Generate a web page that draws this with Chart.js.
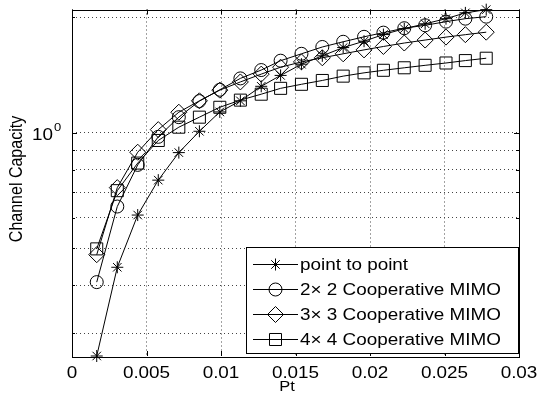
<!DOCTYPE html>
<html>
<head>
<meta charset="utf-8">
<script src="https://cdn.jsdelivr.net/npm/chart.js@4"></script>
<style>
  html, body { margin: 0; padding: 0; background: #fff; }
  canvas { display: block; }
</style>
</head>
<body>
<canvas id="cap-chart" width="538" height="403"></canvas>
<script>
// Transmit power values (x axis)
const ptValues = [0.00166, 0.00304, 0.00441, 0.00579, 0.00717, 0.00855, 0.00992, 0.0113, 0.0127, 0.0140,
  0.0154, 0.0168, 0.0182, 0.0196, 0.0209, 0.0223, 0.0237, 0.0251, 0.0264, 0.0278];

// Channel capacity per scheme
const pointToPoint = [0.262, 0.446, 0.610, 0.752, 0.887, 1.008, 1.132, 1.210, 1.320, 1.409,
  1.507, 1.585, 1.665, 1.730, 1.800, 1.865, 1.920, 1.980, 2.050, 2.090];
const mimo2x2 = [0.408, 0.642, 0.824, 0.975, 1.097, 1.208, 1.293, 1.384, 1.455, 1.539,
  1.604, 1.671, 1.724, 1.776, 1.821, 1.870, 1.903, 1.945, 1.980, 2.004];
const mimo3x3 = [0.481, 0.719, 0.889, 1.018, 1.130, 1.210, 1.290, 1.355, 1.420, 1.480,
  1.528, 1.566, 1.604, 1.642, 1.676, 1.711, 1.742, 1.773, 1.799, 1.826];
const mimo4x4 = [0.498, 0.706, 0.833, 0.954, 1.033, 1.097, 1.164, 1.215, 1.259, 1.304,
  1.336, 1.367, 1.403, 1.431, 1.453, 1.475, 1.497, 1.518, 1.540, 1.562];

const seriesLabels = ['point to point', '2\u00d7 2 Cooperative MIMO', '3\u00d7 3 Cooperative MIMO', '4\u00d7 4 Cooperative MIMO'];
const seriesMarkers = ['star', 'circle', 'rectRot', 'rect'];
const markerRadius = { star: 6, circle: 6.5, rectRot: 8, rect: 8.5 };

// Axis ticks
const xTickValues = [0, 0.005, 0.01, 0.015, 0.02, 0.025, 0.03];
const yGridValues = [0.3, 0.4, 0.5, 0.6, 0.7, 0.8, 0.9, 1, 2];

const FONT = "'Liberation Sans', Arial, Helvetica, sans-serif";
const SX = 1.18; // the reference text is stretched sideways

function stretchedText(ctx, str, x, y, align, size) {
  ctx.save();
  ctx.font = size + 'px ' + FONT;
  ctx.textAlign = align;
  ctx.textBaseline = 'alphabetic';
  ctx.translate(x, y);
  ctx.scale(SX, 1);
  ctx.fillText(str, 0, 0);
  ctx.restore();
}

function drawMarker(ctx, style, x, y) {
  ctx.save();
  ctx.strokeStyle = '#000';
  ctx.fillStyle = 'rgba(0,0,0,0)';
  ctx.lineWidth = 1;
  Chart.helpers.drawPoint(ctx, { pointStyle: style, radius: markerRadius[style], rotation: 0, borderWidth: 1 }, x, y);
  ctx.restore();
}

const decorations = {
  id: 'decorations',
  afterDraw(chart) {
    const ctx = chart.ctx;
    const { left, right, top, bottom } = chart.chartArea;
    const xs = chart.scales.x;
    const ys = chart.scales.y;

    ctx.save();
    ctx.strokeStyle = '#000';
    ctx.fillStyle = '#000';
    ctx.lineWidth = 1;

    // inward tick marks
    ctx.beginPath();
    xTickValues.forEach(v => {
      const px = Math.round(xs.getPixelForValue(v)) + 0.5;
      ctx.moveTo(px, bottom); ctx.lineTo(px, bottom - 5);
      ctx.moveTo(px, top); ctx.lineTo(px, top + 5);
    });
    yGridValues.forEach(v => {
      const py = Math.round(ys.getPixelForValue(v)) + 0.5;
      const len = v === 1 ? 5 : 3;
      ctx.moveTo(left, py); ctx.lineTo(left + len, py);
      ctx.moveTo(right, py); ctx.lineTo(right - len, py);
    });
    ctx.stroke();

    // frame
    ctx.strokeRect(Math.round(left) + 0.5, Math.round(top) + 0.5, Math.round(right - left), Math.round(bottom - top));

    // x tick labels
    xTickValues.forEach(v => {
      stretchedText(ctx, String(+v.toFixed(3)), xs.getPixelForValue(v), bottom + 22, 'center', 16);
    });

    // y tick label 10^0
    const y1 = ys.getPixelForValue(1);
    stretchedText(ctx, '10', 53, y1 + 7.5, 'right', 16);
    stretchedText(ctx, '0', 54, y1 - 2, 'left', 11);

    // axis titles
    stretchedText(ctx, 'Pt', 287, 391, 'center', 14);
    ctx.save();
    ctx.font = '16px ' + FONT;
    ctx.textAlign = 'center';
    ctx.textBaseline = 'middle';
    ctx.translate(17, 179);
    ctx.scale(SX, 1);
    ctx.rotate(-Math.PI / 2);
    ctx.fillText('Channel Capacity', 0, 0);
    ctx.restore();

    // legend
    const lx = 246, ly = 247, lw = 273, lh = 107;
    ctx.fillStyle = '#fff';
    ctx.fillRect(lx, ly, lw, lh);
    ctx.strokeRect(lx + 0.5, ly + 0.5, lw - 1, lh - 1);
    ctx.fillStyle = '#000';
    seriesLabels.forEach((label, i) => {
      const cy = 264 + i * 25;
      ctx.beginPath();
      ctx.moveTo(253, cy + 0.5);
      ctx.lineTo(298, cy + 0.5);
      ctx.stroke();
      drawMarker(ctx, seriesMarkers[i], 275.5, cy + 0.5);
      stretchedText(ctx, label, 300, cy + 6, 'left', 16);
    });
    ctx.restore();
  }
};

function makeDataset(label, values, style) {
  return {
    label,
    data: ptValues.map((x, i) => ({ x, y: values[i] })),
    borderColor: '#000',
    borderWidth: 1,
    backgroundColor: 'rgba(0,0,0,0)',
    pointStyle: style,
    pointRadius: markerRadius[style],
    pointBorderColor: '#000',
    pointBackgroundColor: 'rgba(0,0,0,0)',
    pointBorderWidth: 1,
    tension: 0,
    clip: false
  };
}

new Chart(document.getElementById('cap-chart'), {
  type: 'line',
  data: {
    datasets: [
      makeDataset(seriesLabels[0], pointToPoint, seriesMarkers[0]),
      makeDataset(seriesLabels[1], mimo2x2, seriesMarkers[1]),
      makeDataset(seriesLabels[2], mimo3x3, seriesMarkers[2]),
      makeDataset(seriesLabels[3], mimo4x4, seriesMarkers[3])
    ]
  },
  options: {
    responsive: false,
    animation: false,
    devicePixelRatio: 1,
    layout: { padding: { left: 72, top: 4, right: 19, bottom: 47 } },
    plugins: { legend: { display: false }, tooltip: { enabled: false } },
    scales: {
      x: {
        type: 'linear',
        min: 0,
        max: 0.03,
        afterBuildTicks: scale => { scale.ticks = xTickValues.map(v => ({ value: v })); },
        ticks: { display: false },
        grid: { color: '#444', lineWidth: 1, drawTicks: false },
        border: { display: false, dash: [1, 3] }
      },
      y: {
        type: 'logarithmic',
        min: 0.262,
        max: 2.092,
        afterBuildTicks: scale => { scale.ticks = yGridValues.map(v => ({ value: v })); },
        ticks: { display: false },
        grid: { color: '#444', lineWidth: 1, drawTicks: false },
        border: { display: false, dash: [1, 3] }
      }
    }
  },
  plugins: [decorations]
});
</script>
</body>
</html>
